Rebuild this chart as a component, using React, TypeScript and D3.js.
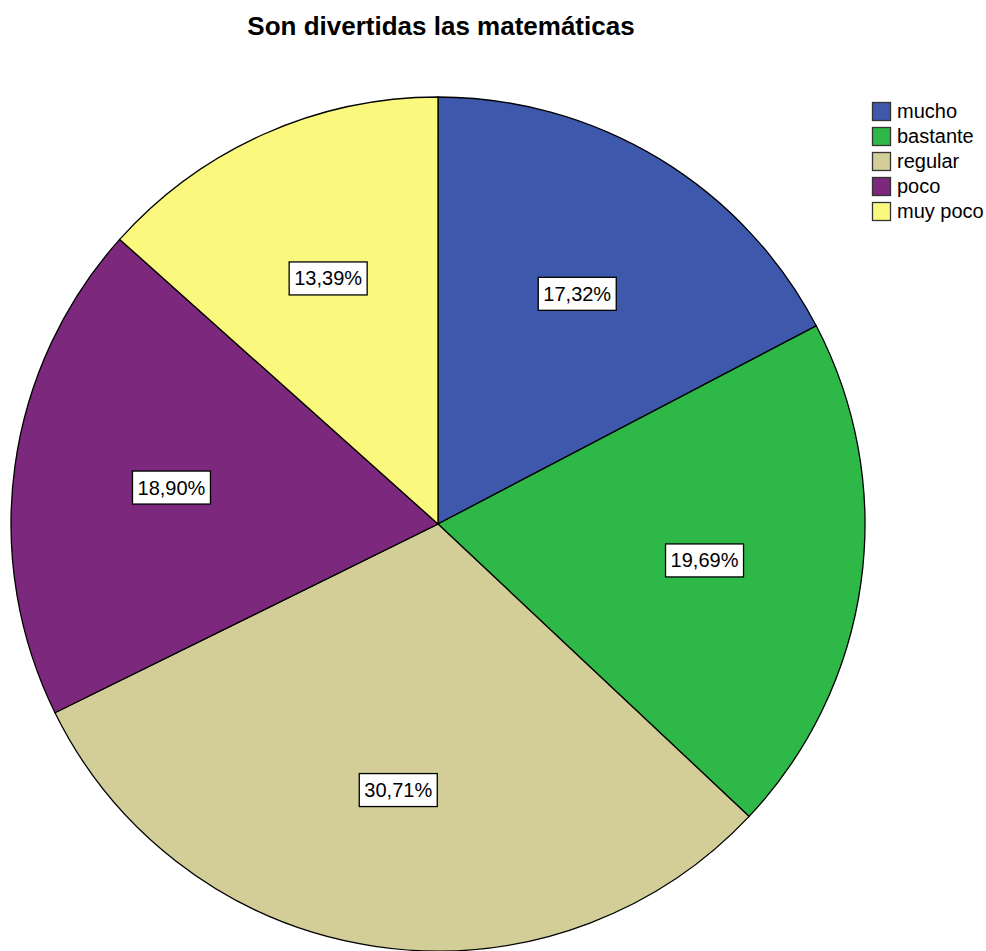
import React from "react";
import * as d3 from "d3";

const categories = ["mucho", "bastante", "regular", "poco", "muy poco"];
const values = [17.32, 19.69, 30.71, 18.9, 13.39];
const labels = ["17,32%", "19,69%", "30,71%", "18,90%", "13,39%"];
const colors = ["#3e58ac", "#2eb848", "#d3ce97", "#7b287d", "#fbf87e"];
const title = "Son divertidas las matemáticas";

export default function App() {
  const W = 986, H = 951;
  const cx = 438, cy = 524, r = 427;
  const pie = d3.pie<number>().sort(null).value((d) => d)(values);
  const arc = d3.arc<d3.PieArcDatum<number>>().innerRadius(0).outerRadius(r);
  const lr = r * 0.63;
  return (
    <svg width={W} height={H} style={{ position: "absolute", left: 0, top: 0, background: "#fff" }} fontFamily="Arial, 'Liberation Sans', sans-serif">
      <text x={441} y={35} textAnchor="middle" fontSize={26} fontWeight="bold" fill="#000">{title}</text>
      <g transform={`translate(${cx},${cy})`}>
        {pie.map((p, i) => (
          <path key={i} d={arc(p) || ""} fill={colors[i]} stroke="#000" strokeWidth={1.3} />
        ))}
        {pie.map((p, i) => {
          const a = (p.startAngle + p.endAngle) / 2;
          const x = Math.sin(a) * lr, y = -Math.cos(a) * lr;
          return (
            <g key={"l" + i} transform={`translate(${x},${y})`}>
              <rect x={-39} y={-16.5} width={78} height={33} fill="#fff" stroke="#000" strokeWidth={1.3} />
              <text x={0} y={7} textAnchor="middle" fontSize={20} fill="#000">{labels[i]}</text>
            </g>
          );
        })}
      </g>
      <g>
        {categories.map((c, i) => (
          <g key={c} transform={`translate(872,${102 + i * 25})`}>
            <rect x={0.5} y={0.5} width={18} height={18} fill={colors[i]} stroke="#333" strokeWidth={1.3} />
            <text x={25} y={16} fontSize={20} fill="#000">{c}</text>
          </g>
        ))}
      </g>
    </svg>
  );
}
